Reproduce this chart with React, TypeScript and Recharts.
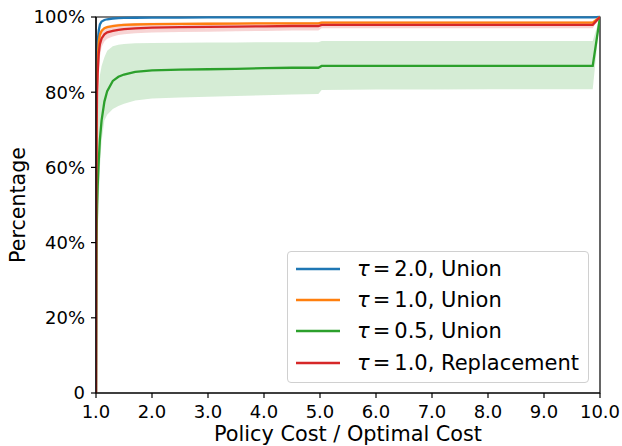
import React from 'react';
import { ComposedChart, Line, Area, XAxis, YAxis, Legend, ReferenceArea, Label } from 'recharts';

const costRatio = [1.0, 1.005, 1.01, 1.02, 1.03, 1.05, 1.07, 1.1, 1.15, 1.2, 1.3, 1.4, 1.5, 1.7, 2.0, 2.5, 3.0, 3.5, 4.0, 4.5, 4.97, 5.03, 6.0, 7.0, 8.0, 9.0, 9.87, 10.0];

const tau20Union = [0, 70, 82, 90, 93.5, 96.5, 98, 98.8, 99.2, 99.4, 99.6, 99.7, 99.75, 99.8, 99.85, 99.85, 99.9, 99.9, 99.9, 99.9, 99.9, 99.9, 99.9, 99.9, 99.9, 99.9, 99.9, 100];
const tau10Union = [0, 60, 75, 85, 89, 93.5, 95.3, 96.3, 97.0, 97.3, 97.6, 97.8, 97.9, 98.0, 98.1, 98.15, 98.2, 98.25, 98.3, 98.3, 98.3, 98.5, 98.5, 98.5, 98.5, 98.5, 98.5, 100];
const tau05Union = [0, 30, 42, 50, 55, 62, 67.5, 72.5, 77.5, 80.3, 83, 84.1, 84.7, 85.4, 85.8, 86.0, 86.1, 86.2, 86.4, 86.5, 86.5, 87.0, 87.0, 87.0, 87.0, 87.0, 87.0, 100];
const tau05UnionLow = [0, 15, 25, 35, 42, 52, 60, 67, 72.5, 74, 75.5, 76.3, 76.9, 77.8, 78.3, 78.6, 78.8, 79.0, 79.2, 79.4, 79.5, 80.6, 80.7, 80.7, 80.8, 80.8, 80.8, 100];
const tau05UnionHigh = [0, 45, 58, 67, 74, 81, 84.5, 87, 89.3, 91, 92.2, 92.6, 92.8, 93.0, 93.1, 93.15, 93.2, 93.25, 93.3, 93.3, 93.3, 93.6, 93.6, 93.6, 93.6, 93.6, 93.6, 100];
const tau10Repl = [0, 55, 70, 80, 85, 90.5, 92.8, 94.3, 95.4, 95.9, 96.3, 96.6, 96.8, 97.0, 97.2, 97.3, 97.4, 97.45, 97.5, 97.6, 97.6, 97.9, 97.9, 97.9, 97.9, 97.9, 97.9, 100];
const tau10ReplLow = [0, 45, 60, 72, 78, 86, 89.5, 92.0, 93.5, 94.2, 94.8, 95.2, 95.4, 95.7, 95.9, 96.0, 96.1, 96.2, 96.3, 96.4, 96.4, 97.0, 97.0, 97.0, 97.0, 97.0, 97.0, 100];
const tau10ReplHigh = [0, 65, 78, 87, 91, 94.5, 96.0, 96.8, 97.4, 97.7, 98.0, 98.2, 98.3, 98.4, 98.5, 98.5, 98.55, 98.6, 98.6, 98.7, 98.7, 98.9, 98.9, 98.9, 98.9, 98.9, 98.9, 100];

const xTicks = [1, 2, 3, 4, 5, 6, 7, 8, 9, 10];
const yTicks = [0, 20, 40, 60, 80, 100];

const legendTau = ['2.0', '1.0', '0.5', '1.0'];
const legendMethod = ['Union', 'Union', 'Union', 'Replacement'];
const seriesColors = ['#1f77b4', '#ff7f0e', '#2ca02c', '#d62728'];

const data = costRatio.map((x, i) => ({
  x,
  blue: tau20Union[i],
  orange: tau10Union[i],
  green: tau05Union[i],
  red: tau10Repl[i],
  gBand: [tau05UnionLow[i], tau05UnionHigh[i]],
  rBand: [tau10ReplLow[i], tau10ReplHigh[i]],
}));

const FONT = '"DejaVu Sans", sans-serif';

const renderLegend = () => (
  <div
    style={{
      boxSizing: 'border-box',
      width: 302,
      height: 132,
      border: '1px solid #d0d0d0',
      borderRadius: 4,
      background: 'rgba(255,255,255,0.8)',
      paddingTop: 1,
      fontFamily: FONT,
      fontSize: 21,
      color: '#000',
    }}
  >
    {legendTau.map((t, i) => (
      <div key={i} style={{ height: 31.3, display: 'flex', alignItems: 'center' }}>
        <svg width={44} height={6} style={{ marginLeft: 7.5, marginRight: 17.5 }}>
          <line x1={0} y1={3} x2={44} y2={3} stroke={seriesColors[i]} strokeWidth={2.3} />
        </svg>
        <span style={{ whiteSpace: 'pre', lineHeight: '24px' }}>
          <i>τ</i>
          <span style={{ margin: '0 4px 0 3px' }}>=</span>
          {t}, {legendMethod[i]}
        </span>
      </div>
    ))}
  </div>
);

export default function App() {
  return (
    <div style={{ position: 'absolute', left: 0, top: 0, width: 622, height: 446, background: '#fff' }}>
      <ComposedChart width={622} height={446} data={data} margin={{ top: 17, right: 22, left: 0, bottom: 0 }}>
        <XAxis
          dataKey="x"
          type="number"
          domain={[1, 10]}
          ticks={xTicks}
          interval={0}
          allowDataOverflow
          tickFormatter={(v: number) => v.toFixed(1)}
          height={53}
          tickSize={5}
          tickMargin={7}
          axisLine={{ stroke: '#000', strokeWidth: 1.2 }}
          tickLine={{ stroke: '#000', strokeWidth: 1.2 }}
          tick={{ fill: '#000', fontSize: 18, fontFamily: FONT }}
        >
          <Label
            content={(props: any) => {
              const vb = props.viewBox;
              return (
                <text x={vb.x + vb.width / 2} y={441} textAnchor="middle" fontSize={20.8} fontFamily={FONT} fill="#000">
                  Policy Cost / Optimal Cost
                </text>
              );
            }}
          />
        </XAxis>
        <YAxis
          type="number"
          domain={[0, 100]}
          ticks={yTicks}
          interval={0}
          width={96}
          tickSize={5}
          tickMargin={6}
          tickFormatter={(v: number) => (v === 0 ? '0' : `${v}%`)}
          axisLine={{ stroke: '#000', strokeWidth: 1.2 }}
          tickLine={{ stroke: '#000', strokeWidth: 1.2 }}
          tick={{ fill: '#000', fontSize: 18, fontFamily: FONT }}
        >
          <Label
            content={(props: any) => {
              const vb = props.viewBox;
              const cx = 24.5;
              const cy = vb.y + vb.height / 2;
              return (
                <text x={cx} y={cy} transform={`rotate(-90 ${cx} ${cy})`} textAnchor="middle" fontSize={20.6} fontFamily={FONT} fill="#000">
                  Percentage
                </text>
              );
            }}
          />
        </YAxis>
        <Line dataKey="blue" type="linear" stroke={seriesColors[0]} strokeWidth={2.3} dot={false} isAnimationActive={false} />
        <Line dataKey="orange" type="linear" stroke={seriesColors[1]} strokeWidth={2.3} dot={false} isAnimationActive={false} />
        <Area dataKey="gBand" type="linear" stroke="none" fill={seriesColors[2]} fillOpacity={0.2} isAnimationActive={false} />
        <Line dataKey="green" type="linear" stroke={seriesColors[2]} strokeWidth={2.3} dot={false} isAnimationActive={false} />
        <Area dataKey="rBand" type="linear" stroke="none" fill={seriesColors[3]} fillOpacity={0.2} isAnimationActive={false} />
        <Line dataKey="red" type="linear" stroke={seriesColors[3]} strokeWidth={2.3} dot={false} isAnimationActive={false} />
        <ReferenceArea x1={1} x2={10} y1={0} y2={100} fill="none" stroke="#000" strokeWidth={1.2} ifOverflow="visible" />
        <Legend
          layout="vertical"
          align="center"
          verticalAlign="middle"
          content={renderLegend}
          wrapperStyle={{ position: 'absolute', left: 287, top: 251, width: 302, height: 132 }}
        />
      </ComposedChart>
    </div>
  );
}
